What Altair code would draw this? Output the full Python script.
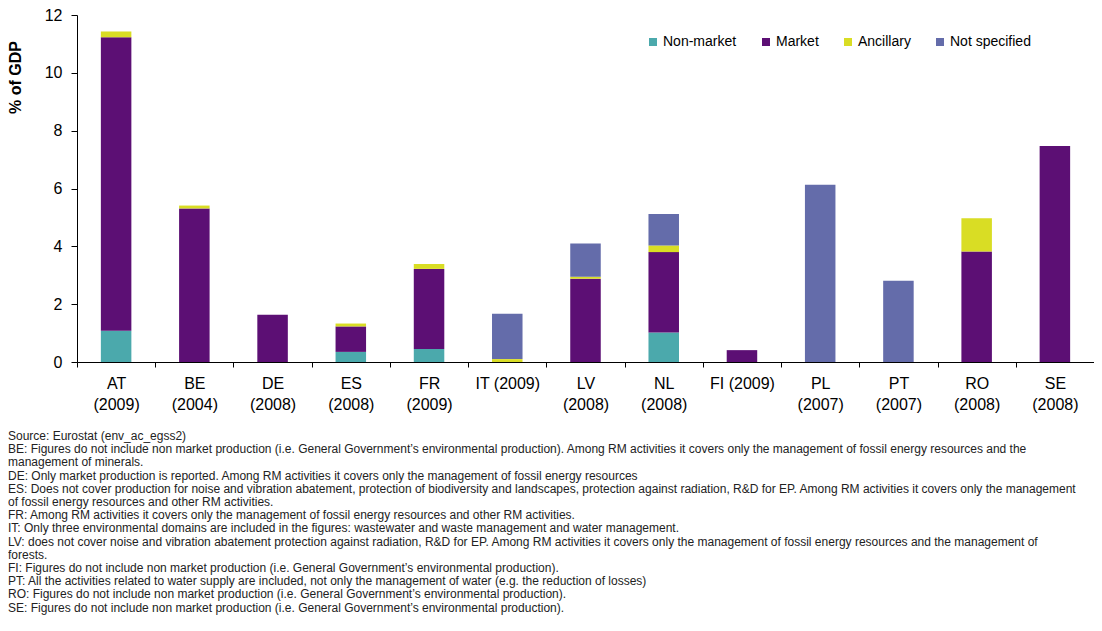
import altair as alt
import pandas as pd

categories = ["AT\n(2009)", "BE\n(2004)", "DE\n(2008)", "ES\n(2008)", "FR\n(2009)", "IT (2009)",
              "LV\n(2008)", "NL\n(2008)", "FI (2009)", "PL\n(2007)", "PT\n(2007)", "RO\n(2008)", "SE\n(2008)"]
series = ["Non-market", "Market", "Ancillary", "Not specified"]
colors = ["#4BA9AC", "#5C0F74", "#D9DD24", "#646CAA"]

non_market = [1.08, 0, 0, 0.35, 0.45, 0, 0, 1.02, 0, 0, 0, 0, 0]
market = [10.15, 5.31, 1.63, 0.88, 2.77, 0, 2.88, 2.78, 0.41, 0, 0, 3.82, 7.47]
ancillary = [0.20, 0.10, 0, 0.10, 0.17, 0.10, 0.07, 0.23, 0, 0, 0, 1.15, 0]
not_specified = [0, 0, 0, 0, 0, 1.57, 1.15, 1.09, 0, 6.13, 2.81, 0, 0]

y_ticks = [0, 2, 4, 6, 8, 10, 12]

notes = [
    "Source: Eurostat (env_ac_egss2)",
    "BE: Figures do not include non market production (i.e. General Government\u2019s environmental production). Among RM activities it covers only the management of fossil energy resources and the",
    "management of minerals.",
    "DE: Only market production is reported. Among RM activities it covers only the management of fossil energy resources",
    "ES: Does not cover production for noise and vibration abatement, protection of biodiversity and landscapes, protection against radiation, R&D for EP. Among RM activities it covers only the management",
    "of fossil energy resources and other RM activities.",
    "FR: Among RM activities it covers only the management of fossil energy resources and other RM activities.",
    "IT: Only three environmental domains are included in the figures: wastewater and waste management and water management.",
    "LV: does not cover noise and vibration abatement protection against radiation, R&D for EP. Among RM activities it covers only the management of fossil energy resources and the management of",
    "forests.",
    "FI: Figures do not include non market production (i.e. General Government\u2019s environmental production).",
    "PT: All the activities related to water supply are included, not only the management of water (e.g. the reduction of losses)",
    "RO: Figures do not include non market production (i.e. General Government\u2019s environmental production).",
    "SE: Figures do not include non market production (i.e. General Government\u2019s environmental production).",
]

rows = []
for i, c in enumerate(categories):
    for j, (s, vals) in enumerate(zip(series, [non_market, market, ancillary, not_specified])):
        rows.append({"country": c, "component": s, "value": vals[i], "order": j})
df = pd.DataFrame(rows)

FONT = "Liberation Sans"

bars = alt.Chart(df).mark_bar(width=alt.RelativeBandSize(0.39)).encode(
    x=alt.X("country:N", sort=categories,
            scale=alt.Scale(paddingInner=0, paddingOuter=0),
            axis=alt.Axis(title=None, labelAngle=0,
                          labelExpr="isValid(datum.value) ? split(datum.value, '\\n') : ''",
                          labelFontSize=16, labelLineHeight=21, labelPadding=8,
                          labelBaseline="top", tickBand="extent", tickSize=5,
                          domainColor="black", tickColor="black", labelColor="black")),
    y=alt.Y("value:Q", stack="zero",
            scale=alt.Scale(domain=[0, 12], nice=False),
            axis=alt.Axis(values=y_ticks, title="% of GDP", titleFontSize=16,
                          titleFontWeight="bold", titleColor="black",
                          titleX=-62, titleY=62, titleAngle=270, titleAlign="center",
                          titleBaseline="middle", grid=False, tickSize=6, labelPadding=9,
                          labelFontSize=16, labelColor="black", domainColor="black",
                          tickColor="black")),
    color=alt.Color("component:N", scale=alt.Scale(domain=series, range=colors),
                    legend=alt.Legend(title=None, orient="none", direction="horizontal",
                                      legendX=569, legendY=20, symbolType="square",
                                      symbolSize=64, labelFontSize=14, columnPadding=22,
                                      labelOffset=3, symbolStrokeWidth=0,
                                      labelColor="black")),
    order=alt.Order("order:Q", sort="ascending"),
)

notes_df = pd.DataFrame({"note": ["\n".join(notes)]})
note_text = alt.Chart(notes_df).mark_text(
    align="left", baseline="top", fontSize=12, lineBreak="\n", lineHeight=13.2,
    color="#222222", font=FONT,
).encode(
    text="note:N",
    x=alt.value(-69),
    y=alt.value(416),
)

chart = alt.layer(bars, note_text).properties(
    width=1017, height=347,
    padding={"left": 69, "top": 7, "right": 0, "bottom": 258},
    autosize=alt.AutoSizeParams(type="none"),
).configure(font=FONT).configure_view(stroke=None)

chart.save("out.html", embed_options={"renderer": "svg", "actions": False})
